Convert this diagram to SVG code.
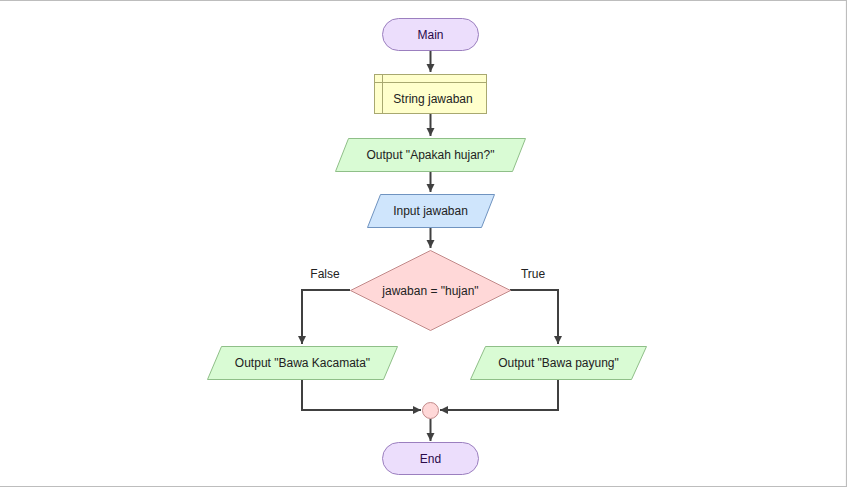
<svg xmlns="http://www.w3.org/2000/svg" width="847" height="488" viewBox="0 0 847 488">
<defs>
<marker id="ah" markerWidth="10" markerHeight="10" refX="9" refY="5" orient="auto" markerUnits="userSpaceOnUse">
<path d="M1,1 L9,5 L1,9 Z" fill="#404040"/>
</marker>
<style>
text{font-family:"Liberation Sans",Arial,sans-serif;font-size:12px;text-anchor:middle;dominant-baseline:central;fill:#222}
.term{fill:#ecdefc;stroke:#9b7fbf;stroke-width:1}
.term-t{fill:#2a0a4a}
.decl{fill:#ffffcc;stroke:#a8a870;stroke-width:1}
.out{fill:#d9fbd4;stroke:#8fbf88;stroke-width:1}
.inp{fill:#cfe5fc;stroke:#6f93c0;stroke-width:1}
.dec{fill:#ffd8d8;stroke:#c28a8a;stroke-width:1}
.conn path{fill:none;stroke:#404040;stroke-width:2}
</style>
</defs>
<rect width="847" height="488" fill="#fff"/>
<path d="M0,0.5 H846.5 V486.5 H0" fill="none" stroke="#bdbdbd" stroke-width="1.2"/>
<g class="conn">
<path d="M430.5,51 V72" marker-end="url(#ah)"/>
<path d="M430.5,114 V136" marker-end="url(#ah)"/>
<path d="M430.5,171 V192" marker-end="url(#ah)"/>
<path d="M430.5,227 V248" marker-end="url(#ah)"/>
<path d="M350,290 H302 V344" marker-end="url(#ah)"/>
<path d="M510,290 H558 V344" marker-end="url(#ah)"/>
<path d="M302,379 V410 H421" marker-end="url(#ah)"/>
<path d="M558,379 V410 H440" marker-end="url(#ah)"/>
<path d="M430.5,419 V441" marker-end="url(#ah)"/>
</g>
<g id="main"><rect class="term" x="382.5" y="18.5" width="96" height="32" rx="16"/><text class="term-t" x="430.5" y="34.5">Main</text></g>
<g id="decl"><rect class="decl" x="374.5" y="74.5" width="112" height="39"/><path d="M382.5,74.5 V113.5 M374.5,82.5 H486.5" fill="none" stroke="#a8a870"/><text x="433" y="98.5">String jawaban</text></g>
<g id="out1"><path class="out" d="M348.5,138.5 H525.5 L512.5,171.5 H335.5 Z"/><text x="430.5" y="155">Output "Apakah hujan?"</text></g>
<g id="in1"><path class="inp" d="M380.5,194.5 H494.5 L481.5,227.5 H367.5 Z"/><text x="430.5" y="211">Input jawaban</text></g>
<g id="dec"><path class="dec" d="M430.5,250.5 L510.5,290.5 L430.5,330.5 L350.5,290.5 Z"/><text x="430.5" y="290.5">jawaban = "hujan"</text></g>
<text x="325" y="274">False</text>
<text x="533" y="274">True</text>
<g id="out2"><path class="out" d="M221.5,346.5 H397.5 L383.5,379.5 H207.5 Z"/><text x="302.5" y="363">Output "Bawa Kacamata"</text></g>
<g id="out3"><path class="out" d="M485.5,346.5 H646.5 L631.5,379.5 H470.5 Z"/><text x="558.5" y="363">Output "Bawa payung"</text></g>
<g id="join"><circle cx="430.5" cy="410.5" r="8" fill="#ffd8d8" stroke="#c28a8a"/></g>
<g id="end"><rect class="term" x="382.5" y="442.5" width="96" height="32" rx="16"/><text class="term-t" x="430.5" y="458.5">End</text></g>
</svg>
